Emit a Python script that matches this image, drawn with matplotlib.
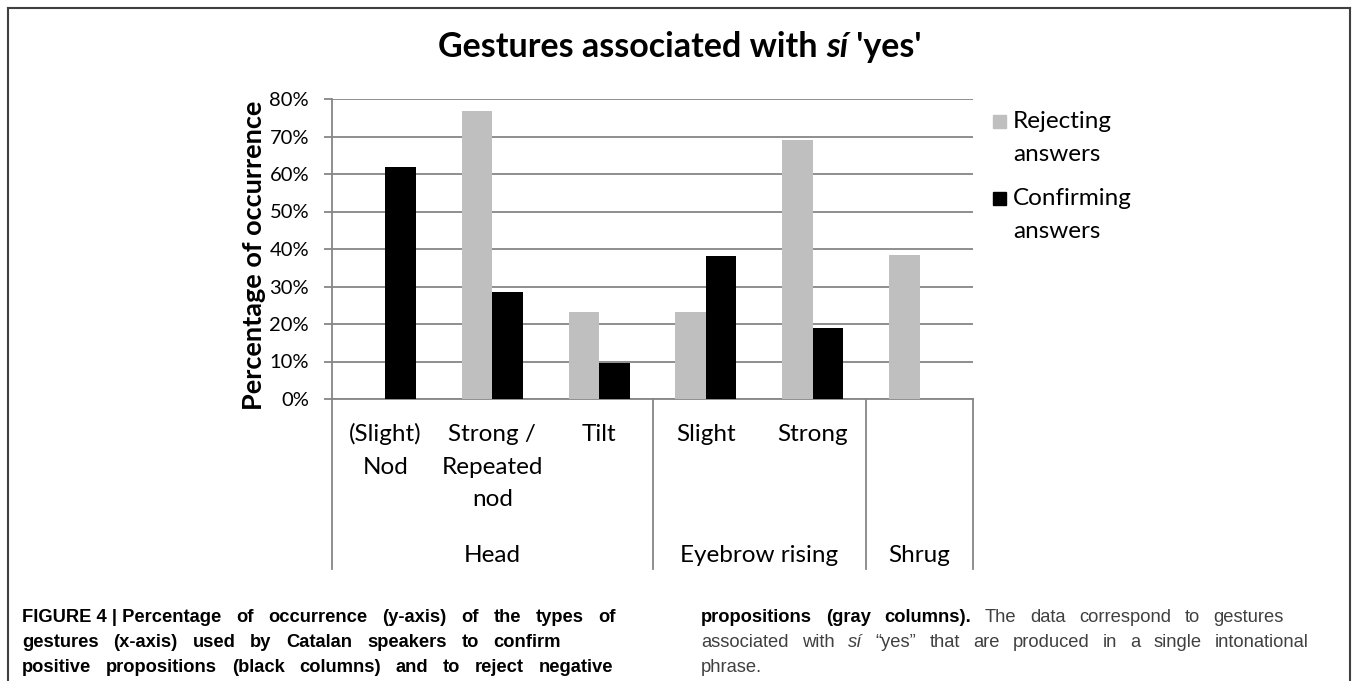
import matplotlib
matplotlib.use('Agg')
import matplotlib.pyplot as plt
import matplotlib.transforms as mtransforms
from matplotlib.lines import Line2D
from matplotlib.patches import Rectangle
from matplotlib.ticker import PercentFormatter
import numpy as np

W, H = 1357, 681

# datos
gestos = ['(Slight)\nNod', 'Strong /\nRepeated\nnod', 'Tilt', 'Slight', 'Strong', '']
grupos = ['Head', 'Eyebrow rising', 'Shrug']
tam_grupos = [3, 2, 1]
rechazo = [0.0, 0.769, 0.231, 0.231, 0.692, 0.385]
confirma = [0.619, 0.286, 0.095, 0.381, 0.190, 0.0]
series = ['Rejecting\nanswers', 'Confirming\nanswers']
colores = ['#BFBFBF', '#000000']

fuente = 'Lato'
fuente_pie = 'Liberation Sans'
gris = '#868686'


def fx(px):
    return px / W


def fy(py):
    return 1 - py / H


fig = plt.figure(figsize=(W / 100, H / 100), dpi=100)
rend = fig.canvas.get_renderer()

# ejes principales (0% en y=399, 80% en y=99)
ax = fig.add_axes([fx(332), fy(399), fx(973) - fx(332), fy(99) - fy(399)])
x = np.arange(len(gestos)) + 0.5
w = 1 / 3.5
ax.bar(x - w / 2, rechazo, w, color=colores[0], zorder=3)
ax.bar(x + w / 2, confirma, w, color=colores[1], zorder=3)
ax.set_xlim(0, len(gestos))
ax.set_ylim(0, 0.8)
ax.set_yticks(np.arange(0, 0.81, 0.1))
ax.yaxis.set_major_formatter(PercentFormatter(1.0, decimals=0))
ax.yaxis.grid(True, color=gris, lw=1.3)
ax.set_axisbelow(True)
for s in ['top', 'right']:
    ax.spines[s].set_visible(False)
ax.spines['left'].set_color(gris)
ax.spines['bottom'].set_color(gris)
ax.spines['left'].set_linewidth(1.3)
ax.spines['bottom'].set_linewidth(1.3)
ax.set_xticks([])
ax.tick_params(axis='y', length=6, width=1.3, color=gris, pad=10.5, labelsize=14.5)
for t in ax.get_yticklabels():
    t.set_fontfamily(fuente)

# titulo en tres trozos (si en cursiva)
trozos = [('Gestures associated with ', 'normal'), ('sí', 'italic'), (" 'yes'", 'normal')]
textos = []
for txt, estilo in trozos:
    textos.append(fig.text(0, fy(57), txt, fontsize=24.5, fontweight='bold', style=estilo,
                           family=fuente, va='baseline', ha='left'))
anchos = [t.get_window_extent(rend).width for t in textos]
x0 = 680 - sum(anchos) / 2
for t, a in zip(textos, anchos):
    t.set_x(fx(x0))
    x0 += a

# etiqueta del eje y
fig.text(fx(254), fy(255), 'Percentage of occurrence', rotation=90, ha='center', va='center',
         fontsize=19.5, fontweight='bold', family=fuente)

# etiquetas de categorias (dos niveles)
mezcla = mtransforms.blended_transform_factory(ax.transData, fig.transFigure)
bases = [441, 473.5, 506]
for xi, lab in zip(x, gestos):
    for k, linea in enumerate(lab.split('\n')):
        if linea:
            ax.text(xi, fy(bases[k]), linea, transform=mezcla, ha='center', va='baseline',
                    fontsize=17.5, family=fuente)

limites = np.concatenate([[0], np.cumsum(tam_grupos)])
for b in limites:
    fig.add_artist(Line2D([b, b], [fy(399), fy(569)], transform=mezcla, color=gris, lw=1.3))
for g, a, b in zip(grupos, limites[:-1], limites[1:]):
    ax.text((a + b) / 2, fy(562), g, transform=mezcla, ha='center', va='baseline',
            fontsize=17.5, family=fuente)

# leyenda
for k, (lab, col) in enumerate(zip(series, colores)):
    y_base = 128 + k * 77
    fig.add_artist(Rectangle((fx(993), fy(y_base)), fx(13), 13 / H, color=col,
                             transform=fig.transFigure))
    for j, linea in enumerate(lab.split('\n')):
        fig.text(fx(1013), fy(y_base + j * 33), linea, ha='left', va='baseline',
                 fontsize=17.5, family=fuente)

# marco
borde = '#404040'
fig.add_artist(Line2D([fx(8), fx(1350)], [fy(8), fy(8)], color=borde, lw=1.5))
fig.add_artist(Line2D([fx(8), fx(8)], [fy(8), fy(700)], color=borde, lw=1.5))
fig.add_artist(Line2D([fx(1350), fx(1350)], [fy(8), fy(700)], color=borde, lw=1.5))


# pie de figura justificado
def justificar(segmentos, x_ini, x_fin, y_base, justo=True):
    ts = []
    for txt, peso, estilo, col in segmentos:
        ts.append(fig.text(0, fy(y_base), txt, fontsize=13.2, fontweight=peso, style=estilo,
                           color=col, family=fuente_pie, va='baseline', ha='left'))
    an = [t.get_window_extent(rend).width for t in ts]
    if justo and len(ts) > 1:
        hueco = (x_fin - x_ini - sum(an)) / (len(ts) - 1)
    else:
        hueco = 4
    xx = x_ini
    for t, a in zip(ts, an):
        t.set_x(fx(xx))
        xx += a + hueco


negro = '#000000'
grisp = '#404040'


def negrita(frase):
    return [(p, 'bold', 'normal', negro) for p in frase.split(' ')]


def normal(frase):
    return [(p, 'normal', 'normal', grisp) for p in frase.split(' ')]


justificar([('FIGURE 4 | Percentage', 'bold', 'normal', negro)] +
           negrita('of occurrence (y-axis) of the types of'), 22, 616, 622)
justificar(negrita('gestures (x-axis) used by Catalan speakers to confirm'), 22, 561, 647)
justificar(negrita('positive propositions (black columns) and to reject negative'), 22, 613, 672)
justificar(negrita('propositions (gray columns).') + normal('The data correspond to gestures'),
           701, 1284, 622)
justificar(normal('associated with') + [('sí', 'normal', 'italic', grisp)] +
           normal('\u201cyes\u201d that are produced in a single intonational'), 701, 1309, 647)
justificar(normal('phrase.'), 701, 1309, 672, justo=False)

fig.savefig('out.png', dpi=100)
